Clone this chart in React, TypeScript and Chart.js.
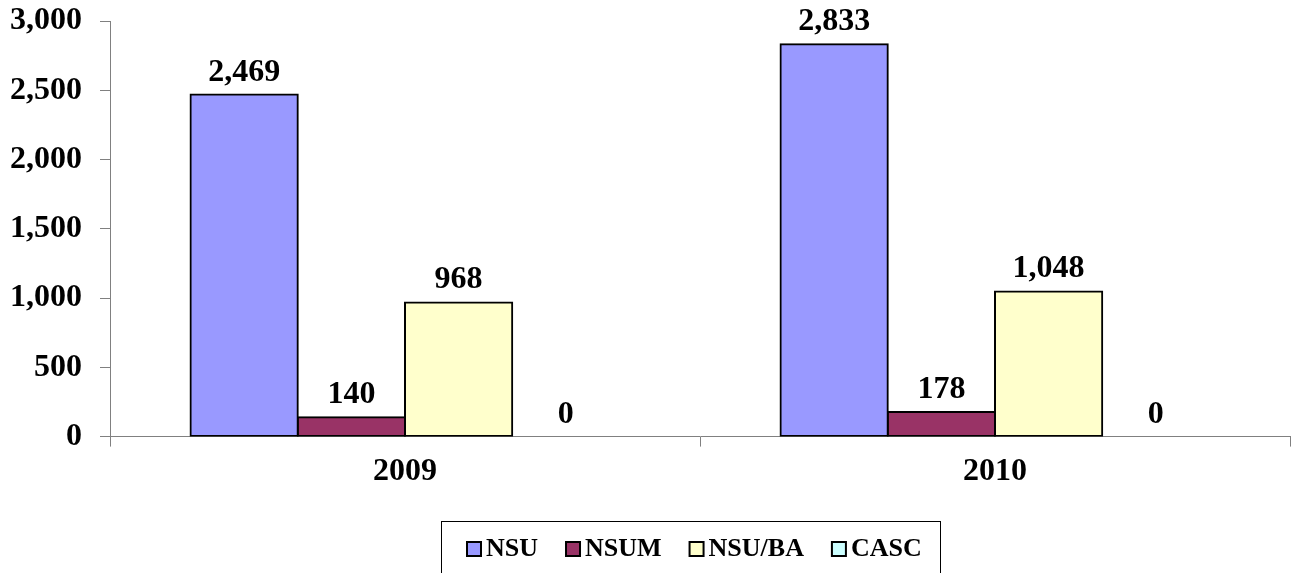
import React, { useEffect, useRef } from "react";
import { Chart, registerables } from "chart.js";

Chart.register(...registerables);

const categories = ["2009", "2010"];
const seriesNames = ["NSU", "NSUM", "NSU/BA", "CASC"];
const nsu = [2469, 2833];
const nsum = [140, 178];
const nsuba = [968, 1048];
const casc = [0, 0];
const colors = ["#9999FF", "#993366", "#FFFFCC", "#CCFFFF"];
const yTicks = [0, 500, 1000, 1500, 2000, 2500, 3000];

const FONT = "'Liberation Serif', 'Times New Roman', serif";

const fmt = (v: number) => v.toLocaleString("en-US");

const valueLabels = {
  id: "valueLabels",
  afterDatasetsDraw(chart: any) {
    const ctx = chart.ctx;
    ctx.save();
    ctx.font = `bold 32px ${FONT}`;
    ctx.fillStyle = "#000";
    ctx.textAlign = "center";
    ctx.textBaseline = "alphabetic";
    chart.data.datasets.forEach((ds: any, i: number) => {
      const meta = chart.getDatasetMeta(i);
      meta.data.forEach((bar: any, j: number) => {
        ctx.fillText(fmt(ds.data[j]), bar.x, bar.y - 14);
      });
    });
    ctx.restore();
  },
};

const boxLegend = {
  id: "boxLegend",
  afterDraw(chart: any) {
    const ctx = chart.ctx;
    ctx.save();
    ctx.strokeStyle = "#000";
    ctx.lineWidth = 1;
    ctx.strokeRect(441.5, 521.5, 499, 70);
    ctx.font = `bold 26px ${FONT}`;
    ctx.textBaseline = "middle";
    ctx.textAlign = "left";
    let x = 467;
    const cy = 548;
    chart.data.datasets.forEach((ds: any) => {
      ctx.fillStyle = ds.backgroundColor;
      ctx.fillRect(x, cy - 6, 14, 14);
      ctx.lineWidth = 2;
      ctx.strokeStyle = "#000";
      ctx.strokeRect(x, cy - 6, 14, 14);
      ctx.fillStyle = "#000";
      ctx.fillText(ds.label, x + 19, cy + 1);
      x += 19 + ctx.measureText(ds.label).width + 28;
    });
    ctx.restore();
  },
};

export default function App() {
  const ref = useRef<HTMLCanvasElement>(null);
  useEffect(() => {
    document.body.style.margin = "0";
    const series = [nsu, nsum, nsuba, casc];
    const chart = new Chart(ref.current!, {
      type: "bar",
      data: {
        labels: categories,
        datasets: seriesNames.map((name, i) => ({
          label: name,
          data: series[i],
          backgroundColor: colors[i],
          borderColor: "#000",
          borderWidth: 2,
          borderSkipped: false,
          inflateAmount: 1,
          categoryPercentage: 0.727,
          barPercentage: 1,
        })),
      },
      options: {
        animation: false,
        responsive: true,
        maintainAspectRatio: false,
        layout: { padding: { left: 0, right: 1, top: 21, bottom: 76 } },
        plugins: { legend: { display: false }, tooltip: { enabled: false } },
        scales: {
          x: {
            grid: {
              display: true,
              drawOnChartArea: false,
              tickLength: 10,
              color: "#808080",
              offset: true,
            },
            border: { color: "#808080", width: 1 },
            ticks: {
              font: { family: FONT, size: 32, weight: "bold" },
              color: "#000",
              padding: 6,
            },
          },
          y: {
            min: 0,
            max: 3000,
            afterBuildTicks: (axis: any) => {
              axis.ticks = yTicks.map((v) => ({ value: v }));
            },
            afterFit: (axis: any) => {
              axis.width = 110;
              axis.paddingTop = 0;
              axis.paddingBottom = 0;
            },
            grid: {
              display: true,
              drawOnChartArea: false,
              tickLength: 10,
              color: "#808080",
            },
            border: { color: "#808080", width: 1 },
            ticks: {
              font: { family: FONT, size: 32, weight: "bold" },
              color: "#000",
              padding: 18,
              callback: (v: any) => fmt(Number(v)),
            },
          },
        },
      },
      plugins: [valueLabels, boxLegend],
    });
    return () => chart.destroy();
  }, []);
  return (
    <div style={{ position: "fixed", left: 0, top: 0, width: 1291, height: 573 }}>
      <canvas ref={ref} />
    </div>
  );
}
